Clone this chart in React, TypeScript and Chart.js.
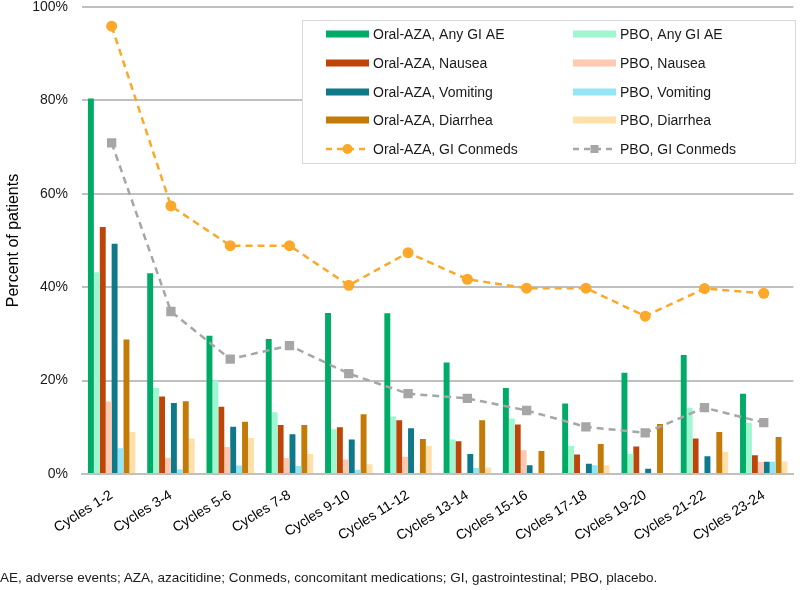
import React, { useEffect, useRef } from "react";
import { Chart, registerables } from "chart.js";

Chart.register(...registerables);

const categories = [
  "Cycles 1-2", "Cycles 3-4", "Cycles 5-6", "Cycles 7-8", "Cycles 9-10", "Cycles 11-12",
  "Cycles 13-14", "Cycles 15-16", "Cycles 17-18", "Cycles 19-20", "Cycles 21-22", "Cycles 23-24",
];

const oralAnyGI = [80.4, 43.0, 29.6, 28.9, 34.5, 34.4, 23.9, 18.4, 15.1, 21.7, 25.5, 17.2];
const pboAnyGI = [43.2, 18.4, 20.0, 13.2, 9.6, 12.3, 7.4, 11.9, 6.0, 4.3, 14.2, 11.0];
const oralNausea = [52.9, 16.6, 14.4, 10.5, 10.0, 11.5, 7.0, 10.6, 4.2, 5.9, 7.6, 4.0];
const pboNausea = [15.5, 3.5, 5.8, 3.4, 3.1, 3.7, 0, 5.1, 0, 0, 0, 2.6];
const oralVomiting = [49.3, 15.2, 10.1, 8.5, 7.4, 9.8, 4.3, 1.9, 2.2, 1.1, 3.8, 2.6];
const pboVomiting = [5.5, 1.0, 1.8, 1.7, 0.9, 0, 1.3, 0, 1.9, 0, 0, 2.6];
const oralDiarrhea = [28.8, 15.6, 11.2, 10.5, 12.8, 7.5, 11.5, 4.9, 6.4, 10.7, 9.0, 7.9];
const pboDiarrhea = [9.0, 7.6, 7.7, 4.3, 2.1, 6.0, 1.4, 0, 1.9, 0, 4.7, 2.7];
const oralConmeds = [95.9, 57.4, 48.9, 48.9, 40.4, 47.4, 41.7, 39.8, 39.8, 33.8, 39.7, 38.7];
const pboConmeds = [70.9, 34.8, 24.6, 27.5, 21.5, 17.2, 16.2, 13.6, 10.1, 8.8, 14.2, 11.0];

const yTicks = [0, 20, 40, 60, 80, 100];

const FONT = "'Liberation Sans', Arial, sans-serif";

const barSeries = [
  { label: "Oral-AZA, Any GI AE", data: oralAnyGI, color: "#00AB68" },
  { label: "PBO, Any GI AE", data: pboAnyGI, color: "#A0F6D1" },
  { label: "Oral-AZA, Nausea", data: oralNausea, color: "#BE4508" },
  { label: "PBO, Nausea", data: pboNausea, color: "#FDC9B0" },
  { label: "Oral-AZA, Vomiting", data: oralVomiting, color: "#0F798A" },
  { label: "PBO, Vomiting", data: pboVomiting, color: "#94E6F7" },
  { label: "Oral-AZA, Diarrhea", data: oralDiarrhea, color: "#C47A06" },
  { label: "PBO, Diarrhea", data: pboDiarrhea, color: "#FFDFAA" },
];

const lineSeries = [
  { label: "Oral-AZA, GI Conmeds", data: oralConmeds, color: "#FBA82B", style: "circle", radius: 5.5 },
  { label: "PBO, GI Conmeds", data: pboConmeds, color: "#A6A6A6", style: "rect", radius: 6.6 },
];

const legendPlugin = {
  id: "customLegend",
  afterDraw(chart: any) {
    const ctx = chart.ctx;
    ctx.save();
    const bx = 302.5, by = 20.5, bw = 493, bh = 143;
    ctx.fillStyle = "#ffffff";
    ctx.fillRect(bx, by, bw, bh);
    ctx.strokeStyle = "#d9d9d9";
    ctx.lineWidth = 1;
    ctx.strokeRect(bx, by, bw, bh);
    const rows = [34, 63, 92, 120, 149];
    const cols = [326, 573];
    const swW = 43;
    ctx.font = `14px ${FONT}`;
    ctx.textBaseline = "middle";
    ctx.textAlign = "left";
    const items: any[] = [];
    for (let i = 0; i < barSeries.length; i++) {
      items.push({ kind: "bar", s: barSeries[i], col: i % 2, row: Math.floor(i / 2) });
    }
    lineSeries.forEach((s, i) => items.push({ kind: "line", s, col: i, row: 4 }));
    items.forEach((it) => {
      const x = cols[it.col];
      const y = rows[it.row];
      if (it.kind === "bar") {
        ctx.fillStyle = it.s.color;
        ctx.fillRect(x, y - 3.5, swW, 7);
      } else {
        ctx.strokeStyle = it.s.color;
        ctx.lineWidth = 2.5;
        ctx.setLineDash([6, 5]);
        ctx.beginPath();
        ctx.moveTo(x, y);
        ctx.lineTo(x + swW, y);
        ctx.stroke();
        ctx.setLineDash([]);
        ctx.fillStyle = it.s.color;
        const cx = x + swW / 2;
        if (it.s.style === "circle") {
          ctx.beginPath();
          ctx.arc(cx, y, 5, 0, Math.PI * 2);
          ctx.fill();
        } else {
          ctx.fillRect(cx - 4, y - 4, 8, 8);
        }
      }
      ctx.fillStyle = "#1a1a1a";
      ctx.fillText(it.s.label, x + swW + 4, y + 1);
    });
    ctx.restore();
  },
};

export default function App() {
  const ref = useRef<HTMLCanvasElement | null>(null);
  useEffect(() => {
    if (!ref.current) return;
    const datasets: any[] = [
      ...lineSeries.map((s) => ({
        type: "line",
        label: s.label,
        data: s.data,
        borderColor: s.color,
        backgroundColor: s.color,
        borderWidth: 2.5,
        borderDash: [7, 5],
        pointStyle: s.style,
        pointRadius: s.radius,
        pointBackgroundColor: s.color,
        pointBorderWidth: 0,
        tension: 0,
        order: 0,
      })),
      ...barSeries.map((s) => ({
        type: "bar",
        label: s.label,
        data: s.data,
        backgroundColor: s.color,
        borderWidth: 0,
        barPercentage: 1,
        categoryPercentage: 0.8,
        order: 1,
      })),
    ];
    const chart = new Chart(ref.current, {
      type: "bar",
      data: { labels: categories, datasets },
      options: {
        animation: false,
        responsive: false,
        maintainAspectRatio: false,
        layout: { padding: { top: 0, right: 3, bottom: 0, left: 0 } },
        plugins: {
          legend: { display: false },
          tooltip: { enabled: false },
          title: { display: false },
        },
        scales: {
          x: {
            grid: { display: false, drawTicks: false },
            border: { display: true, color: "#c0c0c0", width: 2 },
            ticks: {
              color: "#000000",
              font: { family: FONT, size: 14 },
              minRotation: 32,
              maxRotation: 32,
              autoSkip: false,
              padding: 13,
            },
            afterFit: (scale: any) => {
              scale.height = 116;
            },
          },
          y: {
            min: 0,
            max: 100,
            afterBuildTicks: (scale: any) => {
              scale.ticks = yTicks.map((v) => ({ value: v }));
            },
            grid: { color: "#c0c0c0", lineWidth: 2, drawTicks: false },
            border: { display: false },
            ticks: {
              color: "#1a1a1a",
              font: { family: FONT, size: 14 },
              padding: 14,
              callback: (v: any) => `${v}%`,
            },
            title: {
              display: true,
              text: "Percent of patients",
              color: "#000000",
              font: { family: FONT, size: 16 },
              padding: { top: 4, bottom: 0 },
            },
            afterFit: (scale: any) => {
              scale.width = 82;
              scale.paddingTop = 7;
              scale.paddingBottom = 0;
            },
          },
        },
      },
      plugins: [legendPlugin],
    });
    return () => chart.destroy();
  }, []);

  return (
    <div style={{ position: "fixed", left: 0, top: 0, width: 800, height: 590, background: "#fff" }}>
      <canvas ref={ref} width={800} height={590} style={{ display: "block", width: 800, height: 590 }} />
      <div
        style={{
          position: "absolute",
          left: 0,
          top: 570,
          fontFamily: FONT,
          fontSize: 13.5,
          color: "#1a1a1a",
          whiteSpace: "nowrap",
        }}
      >
        AE, adverse events; AZA, azacitidine; Conmeds, concomitant medications; GI, gastrointestinal; PBO, placebo.
      </div>
    </div>
  );
}
